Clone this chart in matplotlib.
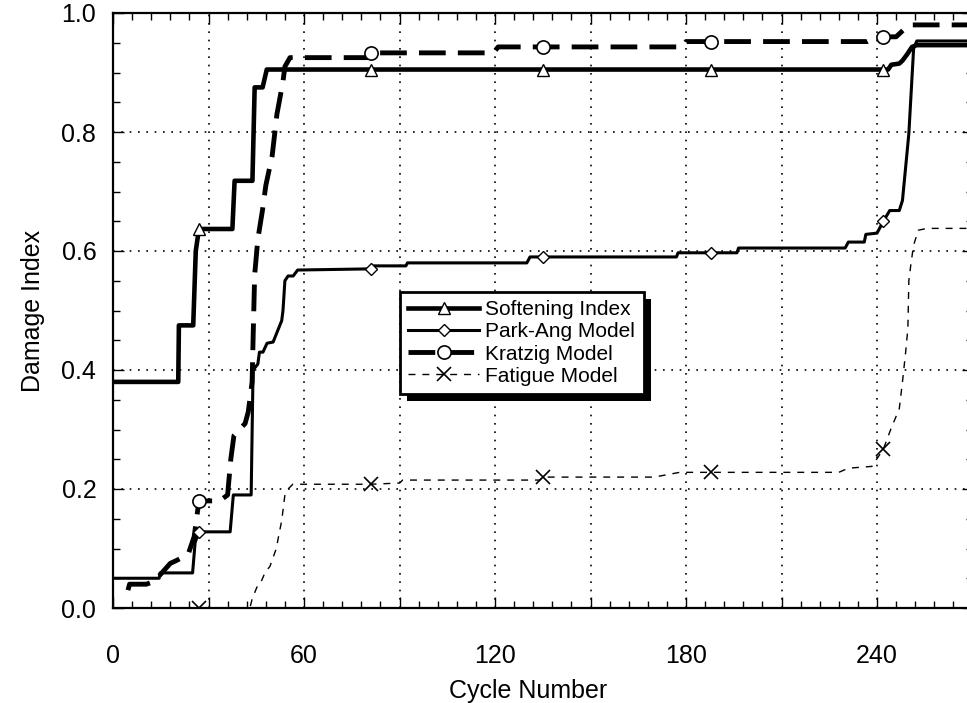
import numpy as np
import matplotlib
matplotlib.use("Agg")
import matplotlib.pyplot as plt
from matplotlib.ticker import MultipleLocator, FuncFormatter
from matplotlib.patches import Rectangle
from matplotlib.transforms import IdentityTransform

plt.rcParams["font.family"] = ["Liberation Sans", "DejaVu Sans"]

# cycles where the symbols sit on every curve
mark_x = [27, 81, 135, 188, 242]

soft_x = [0, 20.5, 20.7, 25.2, 26, 27, 37.5, 38.2, 43.8, 44.5, 47, 48.3,
          81, 135, 188, 242, 243.5, 244.5, 247, 248, 249.4, 251, 252.5, 270]
soft_y = [0.38, 0.38, 0.475, 0.475, 0.60, 0.637, 0.637, 0.718, 0.718, 0.875, 0.875, 0.905,
          0.905, 0.905, 0.905, 0.905, 0.905, 0.913, 0.915, 0.92, 0.93, 0.943, 0.946, 0.946]

park_x = [0, 14.5, 14.8, 25, 25.8, 27, 36.8, 37.8, 43.4, 44, 45.5, 46, 47.1, 48.4,
          50.3, 53, 53.4, 54, 55, 56.6, 58, 81, 82, 92, 92.5, 130, 131, 135,
          177, 177.5, 188, 196, 196.5, 230, 231, 236, 236.5, 240, 242, 244, 247,
          248, 250, 251.5, 252.5, 270]
park_y = [0.05, 0.05, 0.059, 0.059, 0.11, 0.128, 0.128, 0.19, 0.19, 0.40, 0.41, 0.43, 0.43, 0.445,
          0.447, 0.483, 0.50, 0.55, 0.558, 0.558, 0.568, 0.570, 0.575, 0.575, 0.58, 0.58, 0.59, 0.59,
          0.59, 0.597, 0.597, 0.597, 0.605, 0.605, 0.615, 0.615, 0.628, 0.63, 0.65, 0.668, 0.668,
          0.685, 0.797, 0.94, 0.953, 0.953]

kratz_x = [4.7, 5.2, 10.5, 13, 18, 20, 23.6, 25.5, 26.5, 27, 31, 33.5, 36, 37, 38, 41.5,
           42.5, 43.7, 44, 44.5, 45.5, 47, 48, 50, 51.5, 53.4, 54, 55.6, 80, 81, 119.5,
           121, 135, 179, 180, 188, 237, 240, 242, 246, 250, 270]
kratz_y = [0.03, 0.04, 0.04, 0.045, 0.075, 0.08, 0.09, 0.12, 0.16, 0.18, 0.18, 0.18, 0.19, 0.25,
           0.29, 0.31, 0.33, 0.38, 0.45, 0.56, 0.62, 0.67, 0.71, 0.76, 0.83, 0.885, 0.91, 0.925,
           0.925, 0.933, 0.933, 0.943, 0.943, 0.943, 0.952, 0.952, 0.952, 0.96, 0.96, 0.96,
           0.98, 0.98]

fat_x = [0, 27, 43, 43.7, 45.2, 46.2, 47.8, 49.3, 51.3, 52, 53, 54, 55, 56.5, 81, 90, 91,
         134, 135, 170, 178, 188, 228, 231, 238.4, 242, 244.3, 247, 248, 249, 249.7,
         250, 250.7, 251.5, 253, 255.7, 270]
fat_y = [0.0, 0.0, 0.0, 0.015, 0.035, 0.04, 0.06, 0.07, 0.10, 0.12, 0.147, 0.19, 0.20, 0.208,
         0.208, 0.21, 0.215, 0.215, 0.22, 0.22, 0.228, 0.228, 0.228, 0.235, 0.238, 0.267,
         0.30, 0.335, 0.38, 0.43, 0.47, 0.55, 0.58, 0.61, 0.635, 0.638, 0.638]


def marks(xs):
    return list(np.where(np.isin(xs, mark_x))[0])


fig = plt.figure(figsize=(9.67, 7.03), dpi=100)
ax = fig.add_axes([113 / 967, 95 / 703, 859.5 / 967, 595 / 703])

ax.plot(soft_x, soft_y, color="k", lw=3.3, marker="^", ms=8, mfc="white", mec="k", mew=1,
        markevery=marks(soft_x), label="Softening Index", zorder=4)
ax.plot(park_x, park_y, color="k", lw=2.2, marker="D", ms=6.5, mfc="white", mec="k", mew=1,
        markevery=marks(park_x), label="Park-Ang Model", zorder=4)
ax.plot(kratz_x, kratz_y, color="k", lw=3.5, ls=(0, (5.5, 2.5)), marker="o", ms=9.5, mfc="white",
        mec="k", mew=1.2, markevery=marks(kratz_x), label="Kratzig Model", zorder=3)
ax.plot(fat_x, fat_y, color="k", lw=1.0, ls=(0, (5, 5)), marker="x", ms=10, mec="k", mew=1.2,
        markevery=marks(fat_x), label="Fatigue Model", zorder=3)

ax.set_xlim(0, 270)
ax.set_ylim(0, 1.0)
ax.xaxis.set_major_locator(MultipleLocator(30))
ax.xaxis.set_minor_locator(MultipleLocator(6))
ax.xaxis.set_major_formatter(FuncFormatter(lambda v, p: f"{int(v)}" if v % 60 == 0 else ""))
ax.yaxis.set_major_locator(MultipleLocator(0.2))
ax.yaxis.set_minor_locator(MultipleLocator(0.05))
ax.yaxis.set_major_formatter(FuncFormatter(lambda v, p: f"{v:.1f}"))
ax.tick_params(which="both", direction="in", top=True, right=True, width=1, labelsize=18)
ax.tick_params(which="major", length=8)
ax.tick_params(which="minor", length=5)
ax.tick_params(axis="x", pad=26)
ax.tick_params(axis="y", pad=12)
ax.grid(True, which="major", color="k", ls=(0, (1, 4)), lw=1.2)
for s in ax.spines.values():
    s.set_linewidth(1.6)

ax.set_xlabel("Cycle Number", fontsize=18)
ax.set_ylabel("Damage Index", fontsize=18, labelpad=12)
ax.xaxis.set_label_coords((528 - 113) / 859.5, -0.12)

leg = ax.legend(loc="upper left", bbox_to_anchor=(400 / 967, 1 - 292 / 703),
                bbox_transform=fig.transFigure, borderaxespad=0, fontsize=15,
                handlelength=3.4, handletextpad=0.3, labelspacing=0.15, fancybox=False,
                framealpha=1, edgecolor="k", borderpad=0.4)
leg.get_frame().set_linewidth(2)
leg.set_zorder(6)

# solid drop shadow behind the legend box
fig.canvas.draw()
bb = leg.get_window_extent()
ax.add_patch(Rectangle((bb.x0 + 7, bb.y0 - 7), bb.width, bb.height, transform=IdentityTransform(),
                       facecolor="k", edgecolor="none", zorder=5.5, clip_on=False))

fig.savefig("out.png", dpi=100)
